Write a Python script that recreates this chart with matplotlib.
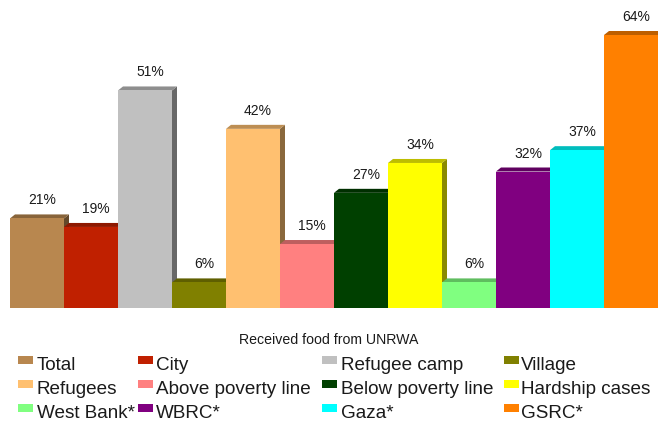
import matplotlib
matplotlib.use("Agg")
import matplotlib.pyplot as plt
from matplotlib.patches import Polygon, Rectangle
from matplotlib.colors import to_rgb

plt.rcParams['font.family'] = ['Liberation Sans', 'DejaVu Sans']

categories = ["Total", "City", "Refugee camp", "Village", "Refugees", "Above poverty line",
              "Below poverty line", "Hardship cases", "West Bank*", "WBRC*", "Gaza*", "GSRC*"]
values = [21, 19, 51, 6, 42, 15, 27, 34, 6, 32, 37, 64]
colors = ["#B8874F", "#C02000", "#C0C0C0", "#808000", "#FFC070", "#FF8080",
          "#004000", "#FFFF00", "#80FF80", "#800080", "#00FFFF", "#FF8000"]
xlabel = "Received food from UNRWA"

W, H = 659, 421
fig = plt.figure(figsize=(W / 100, H / 100), dpi=100)
left_px, right_px, base_px = 10, 658, 308
ax = fig.add_axes([left_px / W, (H - base_px) / H, (right_px - left_px) / W, base_px / H])
px_per_pct = (308 - 35) / 64.0
ax.set_xlim(0, len(values))
ax.set_ylim(0, base_px / px_per_pct)
ax.axis('off')

bar_px = (right_px - left_px) / len(values)
dx = 5 / bar_px
dy = 4 / px_per_pct

def shade(c, f):
    r, g, b = to_rgb(c)
    return (r * f, g * f, b * f)

for i, (v, c) in enumerate(zip(values, colors)):
    x0, x1 = i, i + 1
    top = Polygon([(x0, v), (x0 + dx, v + dy), (x1 + dx, v + dy), (x1, v)],
                  closed=True, facecolor=shade(c, 0.74), edgecolor='none', zorder=2 * i + 1)
    side = Polygon([(x1, 0), (x1, v), (x1 + dx, v + dy), (x1 + dx, dy)],
                   closed=True, facecolor=shade(c, 0.54), edgecolor='none', zorder=2 * i + 1)
    ax.add_patch(side)
    ax.add_patch(top)
    ax.add_patch(Rectangle((x0, 0), 1, v, facecolor=c, edgecolor='none', zorder=2 * i + 2))
    ax.text(i + 0.5 + dx, v + 18 / px_per_pct, f"{v}%", ha='center', va='center',
            fontsize=10, color='#1a1a1a', zorder=50)

fig.text(329 / W, 1 - 339.5 / H, xlabel, ha='center', va='center', fontsize=10.2, color='#1a1a1a')

# manual legend layout (row-major, 4 columns)
patch_x = [18, 138, 322, 504]
text_x = [37, 156, 341, 521]
row_y = [364, 388, 412]
for k, (lab, c) in enumerate(zip(categories, colors)):
    r, col = divmod(k, 4)
    y = row_y[r]
    fig.patches.append(Rectangle((patch_x[col] / W, 1 - (y - 8.5) / H), 15 / W, -8.5 / H,
                                 facecolor=c, edgecolor='none', transform=fig.transFigure,
                                 figure=fig))
    fig.text(text_x[col] / W, 1 - (y + 6.5) / H, lab, ha='left', va='baseline',
             fontsize=13.6, color='#1a1a1a')

fig.savefig("out.png", dpi=100)
